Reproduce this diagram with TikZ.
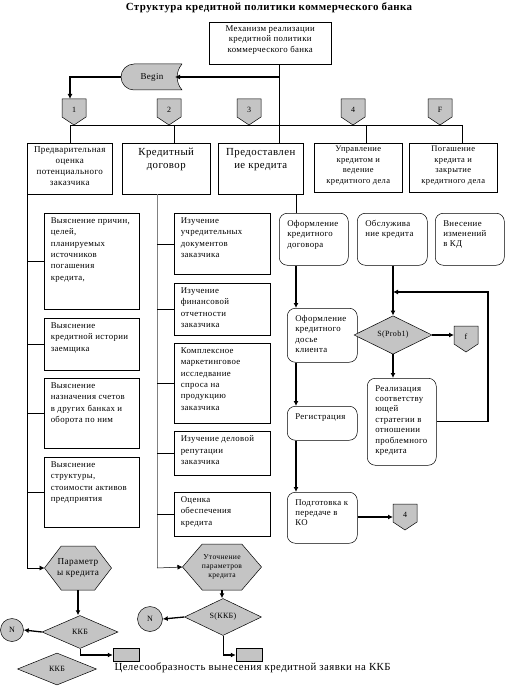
\documentclass[tikz,border=0pt]{standalone}
\usepackage{fontspec}
\setmainfont{Liberation Serif}[LetterSpace=4]
\usetikzlibrary{shapes.geometric,arrows.meta,calc}
\definecolor{shade}{HTML}{C4C4C4}
\newcommand\TX[4]{\parbox[t][\dimexpr#2pt-6pt\relax][t]{\dimexpr#1pt-6pt\relax}{#3#4}}
\newcommand\LA{\raggedright\leftskip=3.5pt\relax\vspace*{1.5pt}}
\newcommand\RA{\raggedright\leftskip=5pt\relax\vspace*{4pt}}
\newcommand\tagsh[4]{%
  \draw[fill=shade,line width=0.5pt] (#2-12,#3) -- (#2+12,#3) -- (#2+12,#3+18) -- (#2,#3+26) -- (#2-12,#3+18) -- cycle;
  \node[font=\fontsize{8}{9}\selectfont] (#1) at (#2,#3+11) {#4};}
\newcommand\hexsh[7]{%
  \draw[fill=shade,line width=0.5pt] (#2-#4/2,#3) -- (#2-#4/4,#3-#5/2) -- (#2+#4/4,#3-#5/2) -- (#2+#4/2,#3) -- (#2+#4/4,#3+#5/2) -- (#2-#4/4,#3+#5/2) -- cycle;
  \node[font=#7,align=center,inner sep=0pt] (#1) at (#2,#3) {#6};
  \coordinate (#1w) at (#2-#4/2,#3);
  \coordinate (#1s) at (#2,#3+#5/2);}
\tikzset{
  bx/.style={draw,line width=0.5pt,inner sep=3pt,font=\fontsize{8.8}{11.3}\selectfont},
  rbx/.style={draw,line width=0.5pt,rounded corners=8pt,inner sep=3pt,font=\fontsize{8.8}{10.4}\selectfont},
  ln/.style={line width=0.5pt},
  arr/.style={line width=0.5pt,-{Latex[length=5pt,width=5pt]}},
  tarr/.style={line width=1.3pt,-{Latex[length=5pt,width=5pt]}},
  dia/.style={diamond,draw,fill=shade,line width=0.5pt,inner sep=0pt,font=\fontsize{8}{9}\selectfont},
  circ/.style={circle,draw,fill=shade,line width=0.5pt,inner sep=0pt,font=\fontsize{8}{9}\selectfont},
  grect/.style={draw,fill=shade,line width=0.5pt,inner sep=0pt,minimum width=26pt,minimum height=13pt}
}
\begin{document}
\begin{tikzpicture}[x=1pt,y=-1pt]
\useasboundingbox (0,0) rectangle (505,687);
% title
\node[font=\bfseries\fontsize{10.9}{12}\selectfont] (title) at (269,8) {Структура кредитной политики коммерческого банка};
% top box
\node[bx,anchor=north west,font=\fontsize{8.8}{10.8}\selectfont] (top) at (209,22) {\TX{122}{42}{\centering}{Механизм реализации\\ кредитной политики\\ коммерческого банка}};
% Begin
\draw[fill=shade,line width=0.5pt] (182,64) -- (134,64) arc[start angle=90,end angle=270,radius=13pt] -- (182,90) to[bend left=40] (182,64);
\node[font=\fontsize{9}{10}\selectfont] (begin) at (152,77) {Begin};
\coordinate (beginR) at (175,77);
\coordinate (beginL) at (121,77);
% level 2 boxes
\node[bx,anchor=north west,font=\fontsize{9}{11}\selectfont] (A) at (27,143) {\TX{85}{51}{\centering}{Предварительная\\ оценка\\ потенциального\\ заказчика}};
\node[bx,anchor=north west,font=\fontsize{10.8}{13}\selectfont] (B) at (122,143) {\TX{88}{51}{\centering}{\vspace*{2pt}Кредитный\\ договор}};
\node[bx,anchor=north west,font=\fontsize{10.8}{13}\selectfont] (C) at (218,143) {\TX{85}{51}{\centering}{\vspace*{2pt}Предоставлен\\ ие кредита}};
\node[bx,anchor=north west,font=\fontsize{8.5}{10.5}\selectfont] (D) at (314,143) {\TX{88}{49}{\centering}{Управление\\ кредитом и\\ ведение\\ кредитного дела}};
\node[bx,anchor=north west,font=\fontsize{8.5}{10.5}\selectfont] (E) at (409,143) {\TX{88}{49}{\centering}{Погашение\\ кредита и\\ закрытие\\ кредитного дела}};
% main vertical and Begin
\coordinate (mvx) at (279,0);
\draw[ln] (top.south -| mvx) -- (C.north -| mvx);
\draw[tarr] (mvx |- beginR) -- (beginR);
\coordinate (t1in) at (70,99);
\draw[tarr] (beginL) -| (t1in);
% horizontal distribution line
\coordinate (h1) at (70,125);
\coordinate (h2) at (174,125);
\coordinate (h4) at (366,125);
\coordinate (h5) at (462,125);
\draw[ln] (h1) -- (h5);
\draw[ln] (h1) -- (h1 |- A.north);
\draw[ln] (h2) -- (h2 |- B.north);
\draw[ln] (h4) -- (h4 |- D.north);
\draw[ln] (h5) -- (h5 |- E.north);
% tags
\tagsh{T1}{74}{99}{1}
\tagsh{T2}{169}{99}{2}
\tagsh{T3}{249}{99}{3}
\tagsh{T4}{353}{99}{4}
\tagsh{T5}{440}{99}{F}
% left column
\node[bx,anchor=north west] (L1) at (44,213) {\TX{95}{96}{\LA}{Выяснение причин,\\ целей,\\ планируемых\\ источников\\ погашения\\ кредита,}};
\node[bx,anchor=north west] (L2) at (44,318) {\TX{95}{52}{\LA}{Выяснение\\ кредитной истории\\ заемщика}};
\node[bx,anchor=north west] (L3) at (44,378) {\TX{95}{70}{\LA}{Выяснение\\ назначения счетов\\ в других банках и\\ оборота по ним}};
\node[bx,anchor=north west] (L4) at (44,457) {\TX{95}{70}{\LA}{Выяснение\\ структуры,\\ стоимости активов\\ предприятия}};
\coordinate (lv) at (27,194);
\coordinate (lvb) at (27,568);
\draw[ln] (lv) -- (lvb);
\foreach \n in {L1,L2,L3,L4} \draw[ln] (\n.west) -- (\n.west -| lv);
% middle column
\node[bx,anchor=north west] (M1) at (174,213) {\TX{96}{61}{\LA}{Изучение\\ учредительных\\ документов\\ заказчика}};
\node[bx,anchor=north west] (M2) at (174,283) {\TX{96}{52}{\LA}{Изучение\\ финансовой\\ отчетности\\ заказчика}};
\node[bx,anchor=north west] (M3) at (174,343) {\TX{96}{80}{\LA}{Комплексное\\ маркетинговое\\ исследвание\\ спроса на\\ продукцию\\ заказчика}};
\node[bx,anchor=north west] (M4) at (174,431) {\TX{96}{44}{\LA}{Изучение деловой\\ репутации\\ заказчика}};
\node[bx,anchor=north west] (M5) at (174,492) {\TX{96}{44}{\LA}{Оценка\\ обеспечения\\ кредита}};
\coordinate (mv2) at (157,194);
\coordinate (mv2b) at (157,568);
\draw[line width=1pt,draw=gray] (mv2) -- (mv2b);
\foreach \n in {M1,M2,M3,M4,M5} \draw[ln] (\n.west) -- (\n.west -| mv2);
% right section
\node[rbx,anchor=north west] (R1) at (279,213) {\TX{69}{52}{\RA}{Оформление\\ кредитного\\ договора}};
\node[rbx,anchor=north west] (R2) at (357,213) {\TX{70}{52}{\RA}{Обслужива\\ ние кредита}};
\node[rbx,anchor=north west] (R3) at (435,213) {\TX{69}{52}{\RA}{Внесение\\ изменений\\ в КД}};
\node[rbx,anchor=north west] (R4) at (287,308) {\TX{70}{54}{\RA}{Оформление\\ кредитного\\ досье\\ клиента}};
\node[rbx,anchor=north west] (R5) at (287,406) {\TX{70}{34}{\RA}{Регистрация}};
\node[rbx,anchor=north west] (R6) at (287,492) {\TX{70}{51}{\RA}{Подготовка к\\ передаче в\\ КО}};
\node[rbx,anchor=north west] (R7) at (367,378) {\TX{69}{87}{\RA}{Реализация\\ соответству\\ ющей\\ стратегии в\\ отношении\\ проблемного\\ кредита}};
\coordinate (rx) at (296,0);
\draw[ln] (C.south -| rx) -- (R1.north -| rx);
\draw[tarr] (R1.south -| rx) -- (R4.north -| rx);
\draw[tarr] (R4.south -| rx) -- (R5.north -| rx);
\draw[tarr] (R5.south -| rx) -- (R6.north -| rx);
\tagsh{T6}{405}{504}{4}
\coordinate (t6w) at (393,517);
\draw[tarr] (R6.east |- t6w) -- (t6w);
\node[dia,minimum width=78pt,minimum height=34pt] (S1) at (393,335) {S(Prob1)};
\draw[tarr] (R2.south -| S1.north) -- (S1.north);
\coordinate (lpx) at (488,292);
\draw[tarr] (R7.east) -| (lpx) -- (lpx -| S1.north);
\tagsh{T7}{466}{326}{f}
\coordinate (t7w) at (454,335);
\draw[tarr] (S1.east) -- (t7w);
\draw[tarr] (S1.south) -- (R7.north -| S1.south);
% bottom left
\hexsh{H1}{78}{568}{67}{44}{Параметр\\ ы кредита}{\fontsize{9.2}{11}\selectfont}
\draw[arr] (lvb) -- (H1w);
\node[dia,minimum width=76pt,minimum height=33pt] (K1) at (80,632) {ККБ};
\draw[tarr] (H1s) -- (H1s |- K1.north);
\node[circ,minimum size=23pt] (N1) at (12,630) {N};
\draw[tarr] (K1.west) -- (N1.east);
\node[grect] (G1) at (126,655) {};
\draw[ln] (K1.south) -- (K1.south |- G1.west);
\draw[tarr] (K1.south |- G1.west) -- (G1.west);
\node[dia,minimum width=79pt,minimum height=32pt] (K2) at (57,669) {ККБ};
\node[anchor=west,font=\fontsize{10.8}{12}\selectfont] (goal) at (111,668) {Целесообразность вынесения кредитной заявки на ККБ};
% bottom middle
\hexsh{H2}{222}{567}{79}{46}{Уточнение\\ параметров\\ кредита}{\fontsize{7.6}{9}\selectfont}
\draw[arr] (mv2b) -- (H2w);
\node[dia,minimum width=77pt,minimum height=37pt] (S2) at (223,617) {S(ККБ)};
\draw[tarr] (H2s) -- (H2s |- S2.north);
\node[circ,minimum size=25pt] (N2) at (150,619) {N};
\draw[tarr] (S2.west) -- (N2.east);
\node[grect] (G2) at (249,655) {};
\draw[ln] (S2.south) -- (S2.south |- G2.west);
\draw[tarr] (S2.south |- G2.west) -- (G2.west);
\end{tikzpicture}
\end{document}
